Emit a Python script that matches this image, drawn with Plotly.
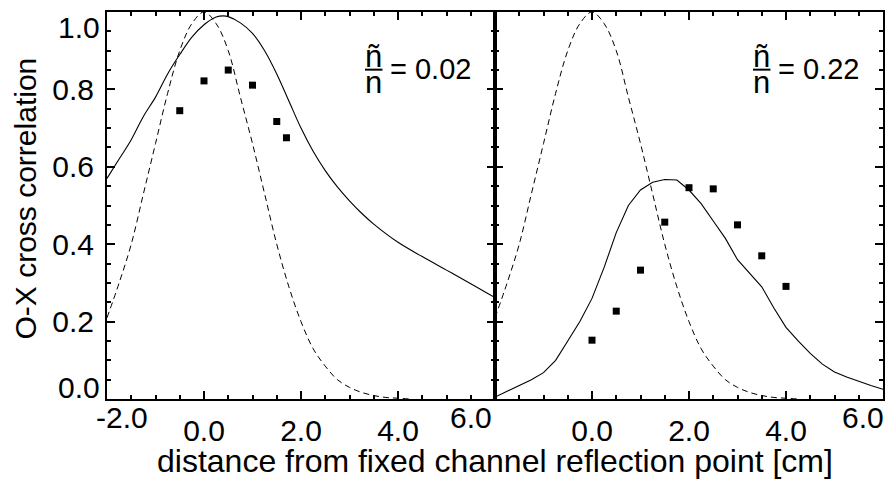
import plotly.graph_objects as go

# ---------------- data ----------------
# dashed reference curve (same in both panels)
dash_x = [-2.0, -1.75, -1.5, -1.25, -1.0, -0.75, -0.5, -0.25, 0.0, 0.25, 0.5, 0.75,
          1.0, 1.25, 1.5, 1.75, 2.0, 2.25, 2.5, 2.75, 3.0, 3.25, 3.5, 3.75, 4.0, 4.25]
dash_y = [0.21, 0.30, 0.40, 0.53, 0.66, 0.79, 0.90, 0.97, 1.00, 0.97, 0.90, 0.78,
          0.66, 0.53, 0.40, 0.29, 0.20, 0.13, 0.085, 0.05, 0.03, 0.017, 0.009, 0.004, 0.002, 0.0]

# left panel (n~/n = 0.02) solid curve
left_x = [-2.0, -1.75, -1.5, -1.25, -1.0, -0.75, -0.5, -0.25, 0.0, 0.25, 0.4, 0.5, 0.75,
          1.0, 1.25, 1.5, 1.75, 2.0, 2.25, 2.5, 2.75, 3.0, 3.25, 3.5, 4.0, 4.5, 5.0, 5.5, 6.0]
left_y = [0.57, 0.62, 0.67, 0.73, 0.78, 0.84, 0.89, 0.935, 0.967, 0.987, 0.99, 0.988, 0.972,
          0.945, 0.90, 0.84, 0.77, 0.70, 0.64, 0.59, 0.548, 0.512, 0.48, 0.452, 0.405, 0.368, 0.333, 0.298, 0.262]
left_pts_x = [-0.5, 0.0, 0.5, 1.0, 1.5, 1.7]
left_pts_y = [0.745, 0.822, 0.850, 0.811, 0.717, 0.675]

# right panel (n~/n = 0.22) solid curve
right_x = [-2.0, -1.75, -1.5, -1.25, -1.0, -0.75, -0.5, -0.25, 0.0, 0.25, 0.5, 0.75,
           1.0, 1.25, 1.5, 1.75, 2.0, 2.25, 2.5, 2.75, 3.0, 3.25, 3.5, 3.75, 4.0, 4.25,
           4.5, 4.75, 5.0, 5.25, 5.5, 5.75, 6.0]
right_y = [0.005, 0.02, 0.035, 0.05, 0.068, 0.10, 0.15, 0.20, 0.26, 0.34, 0.43, 0.50,
           0.54, 0.56, 0.567, 0.566, 0.54, 0.505, 0.46, 0.415, 0.36, 0.325, 0.29, 0.235, 0.185, 0.15,
           0.118, 0.09, 0.07, 0.057, 0.045, 0.035, 0.025]
right_pts_x = [0.0, 0.5, 1.0, 1.5, 2.0, 2.5, 3.0, 3.5, 4.0]
right_pts_y = [0.152, 0.227, 0.333, 0.457, 0.546, 0.543, 0.450, 0.370, 0.291]

x_tick_vals = [-2, 0, 2, 4, 6]
x_tick_text = ["-2.0", "0.0", "2.0", "4.0", "6.0"]
y_tick_vals = [0.0, 0.2, 0.4, 0.6, 0.8, 1.0]
y_tick_text = ["0.0", "0.2", "0.4", "0.6", "0.8", "1.0"]

ratio_labels = ["= 0.02", "= 0.22"]
x_title = "distance from fixed channel reflection point [cm]"
y_title = "O-X cross correlation"

FONT = "Liberation Sans, Arial, sans-serif"

# ---------------- figure ----------------
fig = go.Figure()
for xa, ya, cx, cy, px, py in [("x", "y", left_x, left_y, left_pts_x, left_pts_y),
                               ("x2", "y2", right_x, right_y, right_pts_x, right_pts_y)]:
    fig.add_trace(go.Scatter(x=dash_x, y=dash_y, mode="lines", xaxis=xa, yaxis=ya,
                             line=dict(color="black", width=1, dash="6px,4px", shape="spline"),
                             showlegend=False))
    fig.add_trace(go.Scatter(x=cx, y=cy, mode="lines", xaxis=xa, yaxis=ya,
                             line=dict(color="black", width=1.1,
                                       shape="spline" if xa == "x" else "linear"),
                             showlegend=False))
    fig.add_trace(go.Scatter(x=px, y=py, mode="markers", xaxis=xa, yaxis=ya,
                             marker=dict(symbol="square", size=7, color="black"),
                             showlegend=False))

# inner labels on axes, edge labels as shifted annotations
x_inner_text = [t if 0 < i < len(x_tick_text) - 1 else "" for i, t in enumerate(x_tick_text)]
y_inner_text = [t if 0 < i < len(y_tick_text) - 1 else "" for i, t in enumerate(y_tick_text)]

axis_common = dict(showline=True, linecolor="black", linewidth=2, mirror="allticks",
                   ticks="inside", ticklen=8, tickwidth=2, tickcolor="black",
                   showgrid=False, zeroline=False,
                   tickfont=dict(family=FONT, size=30, color="black"))

xcommon = dict(axis_common, range=[-2, 6], tickmode="array", tickvals=x_tick_vals,
               minor=dict(ticks="inside", ticklen=4, tickwidth=2, tickcolor="black",
                          tickmode="linear", tick0=0, dtick=0.5))
ycommon = dict(axis_common, range=[0, 1], tickmode="array", tickvals=y_tick_vals,
               minor=dict(ticks="inside", ticklen=4, tickwidth=2, tickcolor="black",
                          tickmode="linear", tick0=0, dtick=0.05))

fig.update_layout(
    width=892, height=487,
    margin=dict(l=107, r=7, t=12, b=88),
    paper_bgcolor="white", plot_bgcolor="white",
    xaxis=dict(xcommon, domain=[0, 0.5], anchor="y", ticktext=x_inner_text, ticklabelstandoff=4),
    xaxis2=dict(xcommon, domain=[0.5, 1], anchor="y2",
                ticktext=[t if 0 < i < len(x_tick_text) - 1 else "" for i, t in enumerate(x_tick_text)],
                ticklabelstandoff=4),
    yaxis=dict(ycommon, domain=[0, 1], anchor="x", ticktext=y_inner_text, ticklabelstandoff=5),
    yaxis2=dict(ycommon, domain=[0, 1], anchor="x2", matches="y", showticklabels=False),
)

ann = []
tf = dict(family=FONT, size=30, color="black")
# x edge labels
ann.append(dict(x=x_tick_vals[0], y=0, xref="x", yref="paper", text=x_tick_text[0],
                showarrow=False, font=tf, xanchor="center", yanchor="middle", xshift=15, yshift=-18))
ann.append(dict(x=x_tick_vals[-1], y=0, xref="x", yref="paper", text=x_tick_text[-1],
                showarrow=False, font=tf, xanchor="center", yanchor="middle", xshift=-24, yshift=-18))
ann.append(dict(x=x_tick_vals[-1], y=0, xref="x2", yref="paper", text=x_tick_text[-1],
                showarrow=False, font=tf, xanchor="center", yanchor="middle", xshift=-20, yshift=-18))
# y edge labels
ann.append(dict(x=0, y=y_tick_vals[0], xref="paper", yref="y", text=y_tick_text[0],
                showarrow=False, font=tf, xanchor="right", yanchor="middle", xshift=-5, yshift=12))
ann.append(dict(x=0, y=y_tick_vals[-1], xref="paper", yref="y", text=y_tick_text[-1],
                showarrow=False, font=tf, xanchor="right", yanchor="middle", xshift=-5, yshift=-15))
# axis titles
ann.append(dict(x=0.5, y=0, xref="paper", yref="paper", text=x_title, showarrow=False,
                font=dict(family=FONT, size=32, color="black"), xanchor="center", yanchor="middle",
                yshift=-62))
ann.append(dict(x=0, y=0.5, xref="paper", yref="paper", text=y_title, showarrow=False,
                textangle=-90, font=dict(family=FONT, size=30, color="black"),
                xanchor="center", yanchor="middle", xshift=-82, yshift=7))

# n~/n = value labels
shapes = []
nf = dict(family=FONT, size=31, color="black")
for xa, ya, lab in [("x", "y", ratio_labels[0]), ("x2", "y2", ratio_labels[1])]:
    ann.append(dict(x=3.5, y=0.886, xref=xa, yref=ya, text="ñ", showarrow=False,
                    font=nf, xanchor="center", yanchor="middle"))
    ann.append(dict(x=3.5, y=0.817, xref=xa, yref=ya, text="n", showarrow=False,
                    font=nf, xanchor="center", yanchor="middle"))
    ann.append(dict(x=3.8, y=0.853, xref=xa, yref=ya, text=lab, showarrow=False,
                    font=dict(family=FONT, size=29, color="black"), xanchor="left", yanchor="middle"))
    shapes.append(dict(type="line", xref=xa, yref=ya, x0=3.32, x1=3.68, y0=0.851, y1=0.851,
                       line=dict(color="black", width=2)))

fig.update_layout(annotations=ann, shapes=shapes)
fig.write_html("out.html")
